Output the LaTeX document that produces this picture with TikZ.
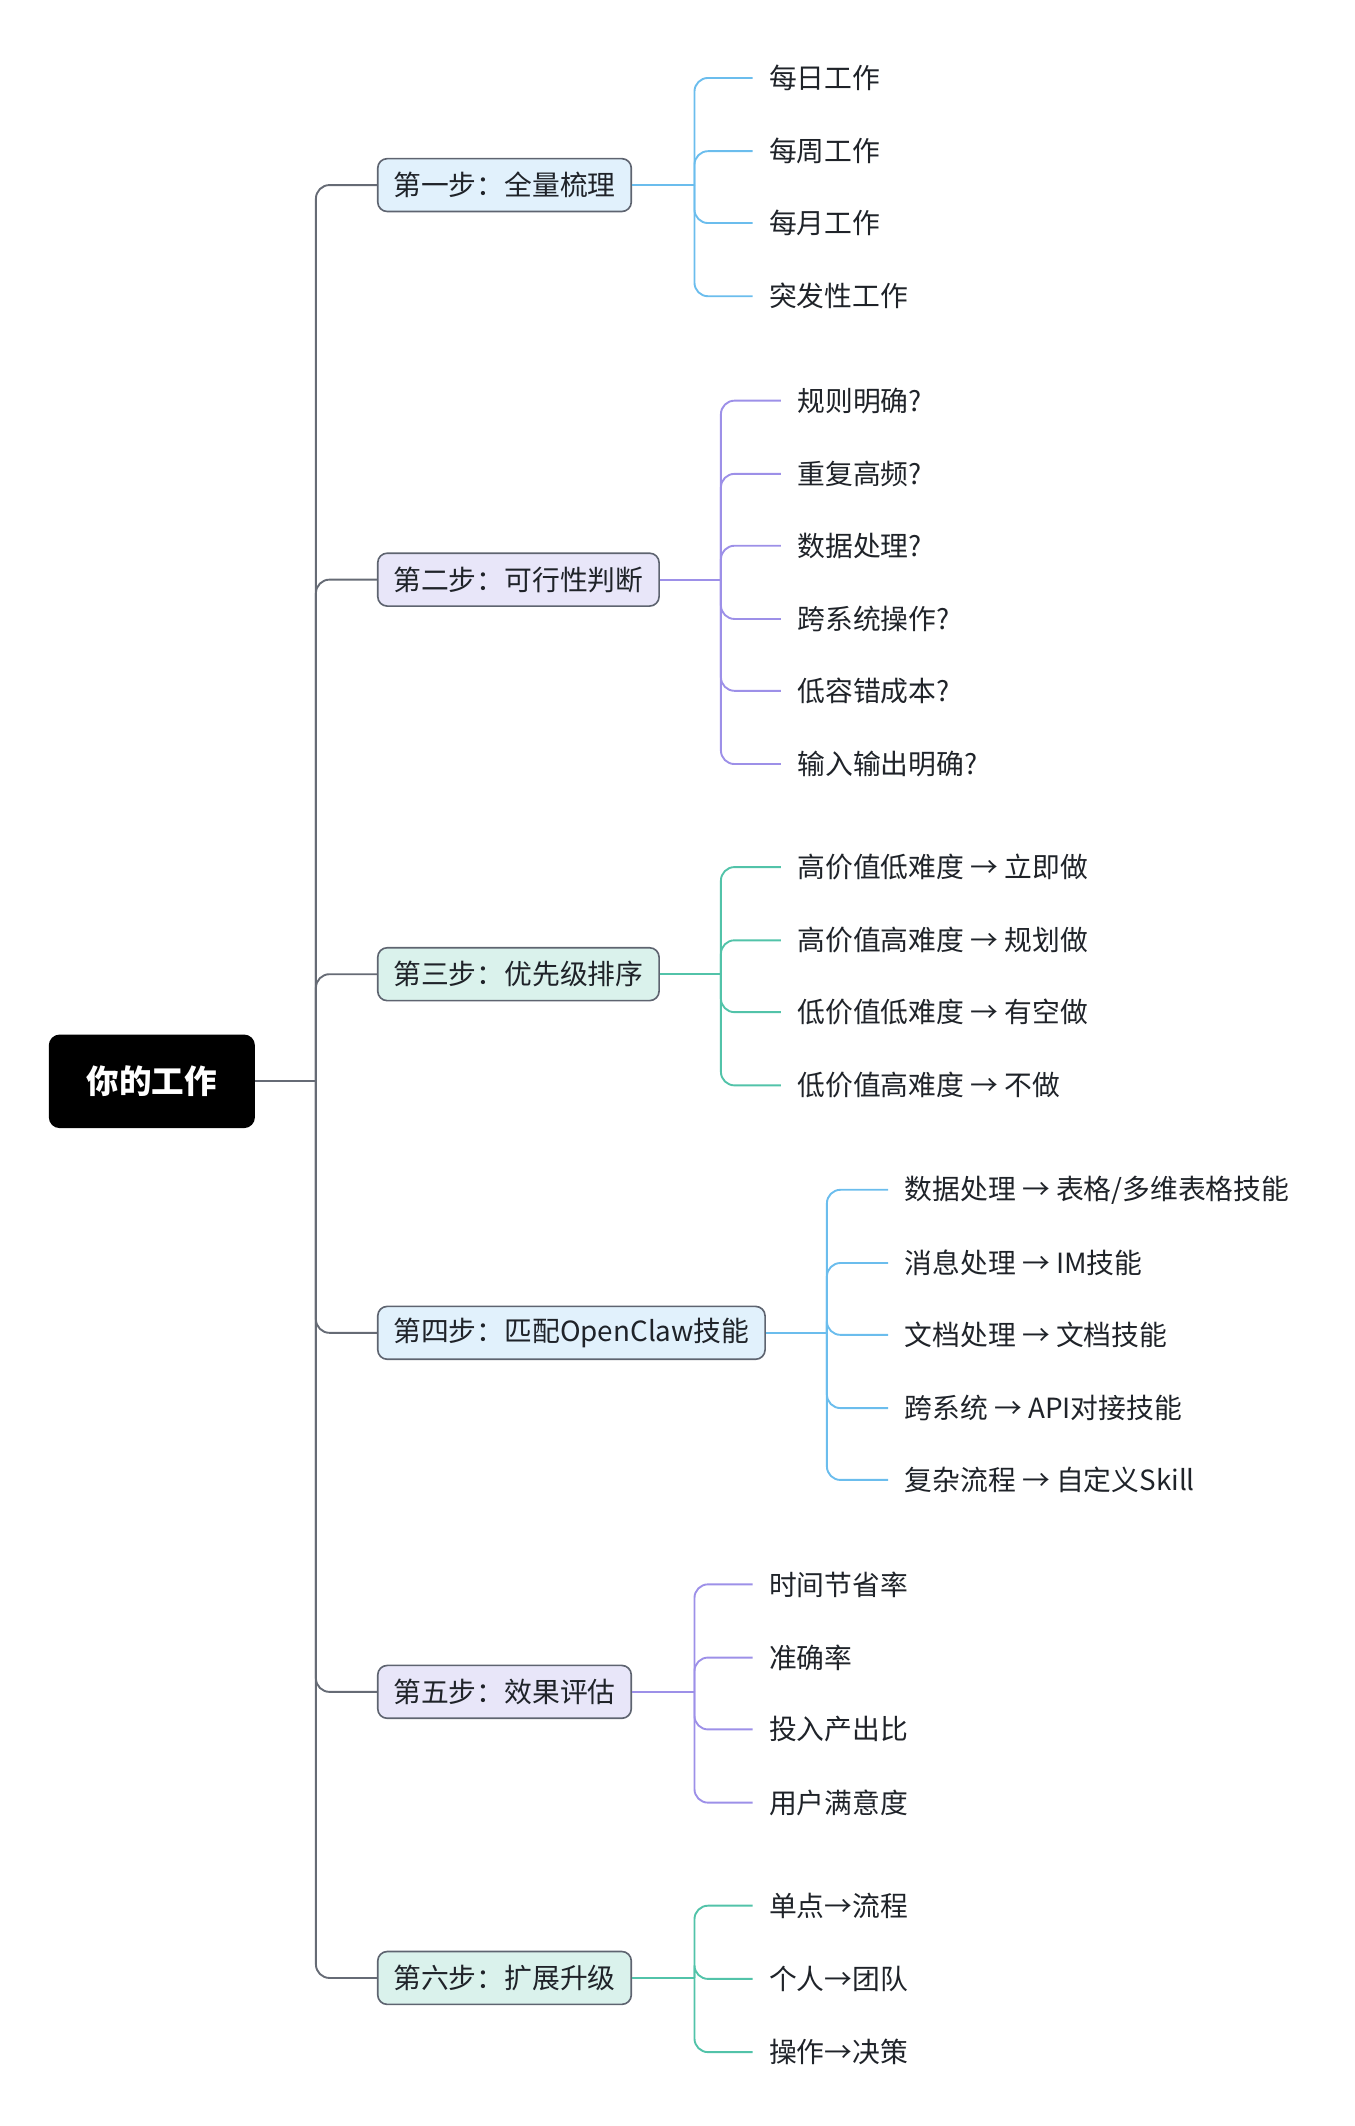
\documentclass[tikz,border=0pt]{standalone}
\usepackage{fontspec}
\setmainfont{Noto Sans CJK SC}
\definecolor{txt}{HTML}{1F2329}
\definecolor{bord}{HTML}{5E6470}
\definecolor{trunkc}{HTML}{666B75}
\definecolor{blueL}{HTML}{6BBDED}
\definecolor{blueF}{HTML}{E1F1FC}
\definecolor{purpL}{HTML}{9D90E8}
\definecolor{purpF}{HTML}{E8E6F9}
\definecolor{tealL}{HTML}{52C3A9}
\definecolor{tealF}{HTML}{DAF2EC}
\begin{document}
\begin{tikzpicture}[x=1pt,y=-1pt,
  every node/.style={font=\fontsize{20.5}{24}\selectfont, text=txt},
  rootbox/.style={fill=black, text=white, rounded corners=8pt, minimum width=152pt, minimum height=69pt, inner sep=0pt, font=\fontsize{24}{28}\selectfont\bfseries},
  stepbox/.style={draw=bord, line width=1.2pt, rounded corners=7pt, inner xsep=11.5pt, inner ysep=0pt, minimum height=39pt, anchor=west},
  leaf/.style={anchor=west, inner xsep=0pt, inner ysep=2pt},
  trunkline/.style={draw=trunkc, line width=1.4pt, rounded corners=10pt},
  bline/.style={draw=blueL, line width=1.4pt, rounded corners=10pt},
  pline/.style={draw=purpL, line width=1.4pt, rounded corners=10pt},
  tline/.style={draw=tealL, line width=1.4pt, rounded corners=10pt}
]
\useasboundingbox (0,0) rectangle (999,1568);

% root
\node[rootbox] (root) at (112,797.5) {你的工作};
\coordinate (tj) at (233,797.5);

% steps
\node[stepbox, fill=blueF] (s1) at (278,136.5) {第一步：全量梳理};
\node[stepbox, fill=purpF] (s2) at (278,427.5) {第二步：可行性判断};
\node[stepbox, fill=tealF] (s3) at (278,718.5) {第三步：优先级排序};
\node[stepbox, fill=blueF] (s4) at (278,983) {第四步：匹配OpenClaw技能};
\node[stepbox, fill=purpF] (s5) at (278,1247.8) {第五步：效果评估};
\node[stepbox, fill=tealF] (s6) at (278,1458.8) {第六步：扩展升级};

% trunk
\draw[trunkline] (root.east) -- (tj);
\foreach \s in {s1,s2,s3,s4,s5,s6}{
  \draw[trunkline] (tj) -- (tj |- \s.west) -- (\s.west);
}

% branch coordinates
\coordinate (b1) at ([xshift=46pt]s1.east);
\coordinate (b2) at ([xshift=45pt]s2.east);
\coordinate (b3) at ([xshift=45pt]s3.east);
\coordinate (b4) at ([xshift=45pt]s4.east);
\coordinate (b5) at ([xshift=46pt]s5.east);
\coordinate (b6) at ([xshift=46pt]s6.east);

% leaves
\node[leaf] (l11) at (567,57.5) {每日工作};
\node[leaf] (l12) at (567,111.5) {每周工作};
\node[leaf] (l13) at (567,164.5) {每月工作};
\node[leaf] (l14) at (567,218.5) {突发性工作};

\node[leaf] (l21) at (588,295.5) {规则明确?};
\node[leaf] (l22) at (588,349.5) {重复高频?};
\node[leaf] (l23) at (588,402.5) {数据处理?};
\node[leaf] (l24) at (588,456.5) {跨系统操作?};
\node[leaf] (l25) at (588,509.5) {低容错成本?};
\node[leaf] (l26) at (588,563.5) {输入输出明确?};

\node[leaf] (l31) at (588,639.5) {高价值低难度 → 立即做};
\node[leaf] (l32) at (588,693.5) {高价值高难度 → 规划做};
\node[leaf] (l33) at (588,746.5) {低价值低难度 → 有空做};
\node[leaf] (l34) at (588,800.5) {低价值高难度 → 不做};

\node[leaf] (l41) at (667,877.5) {数据处理 → 表格/多维表格技能};
\node[leaf] (l42) at (667,931.5) {消息处理 → IM技能};
\node[leaf] (l43) at (667,984.5) {文档处理 → 文档技能};
\node[leaf] (l44) at (667,1038.5) {跨系统 → API对接技能};
\node[leaf] (l45) at (667,1091.5) {复杂流程 → 自定义Skill};

\node[leaf] (l51) at (567,1168.5) {时间节省率};
\node[leaf] (l52) at (567,1222.5) {准确率};
\node[leaf] (l53) at (567,1275.5) {投入产出比};
\node[leaf] (l54) at (567,1329.5) {用户满意度};

\node[leaf] (l61) at (567,1405.5) {单点→流程};
\node[leaf] (l62) at (567,1459.5) {个人→团队};
\node[leaf] (l63) at (567,1513.5) {操作→决策};

% branch connectors
\draw[bline] (s1.east) -- (b1);
\foreach \l in {l11,l12,l13,l14}{\draw[bline] (b1) -- (b1 |- \l.west) -- ([xshift=-12pt]\l.west);}
\draw[pline] (s2.east) -- (b2);
\foreach \l in {l21,l22,l23,l24,l25,l26}{\draw[pline] (b2) -- (b2 |- \l.west) -- ([xshift=-12pt]\l.west);}
\draw[tline] (s3.east) -- (b3);
\foreach \l in {l31,l32,l33,l34}{\draw[tline] (b3) -- (b3 |- \l.west) -- ([xshift=-12pt]\l.west);}
\draw[bline] (s4.east) -- (b4);
\foreach \l in {l41,l42,l43,l44,l45}{\draw[bline] (b4) -- (b4 |- \l.west) -- ([xshift=-12pt]\l.west);}
\draw[pline] (s5.east) -- (b5);
\foreach \l in {l51,l52,l53,l54}{\draw[pline] (b5) -- (b5 |- \l.west) -- ([xshift=-12pt]\l.west);}
\draw[tline] (s6.east) -- (b6);
\foreach \l in {l61,l62,l63}{\draw[tline] (b6) -- (b6 |- \l.west) -- ([xshift=-12pt]\l.west);}
\end{tikzpicture}
\end{document}
